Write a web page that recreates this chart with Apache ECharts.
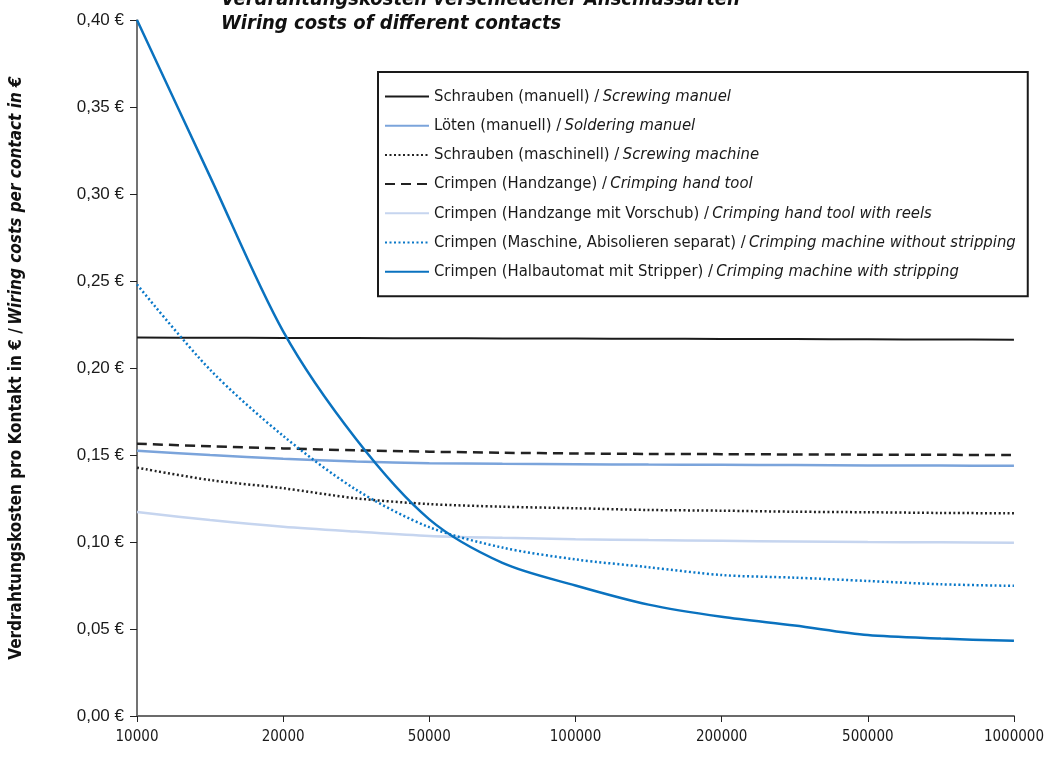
<!DOCTYPE html>
<html>
<head>
<meta charset="utf-8">
<script src="https://cdn.jsdelivr.net/npm/echarts@6/dist/echarts.min.js"></script>
<style>
  html, body { margin: 0; padding: 0; background: #fff; }
  #chart { width: 1047px; height: 759px; }
</style>
</head>
<body>
<div id="chart"></div>
<script>
// number of contacts (only every second one is labelled on the axis)
const contacts = ['10000', '15000', '20000', '30000', '50000', '75000', '100000',
  '150000', '200000', '300000', '500000', '750000', '1000000']

const namesDe = [
  'Schrauben (manuell)',
  'Löten (manuell)',
  'Schrauben (maschinell)',
  'Crimpen (Handzange)',
  'Crimpen (Handzange mit Vorschub)',
  'Crimpen (Maschine, Abisolieren separat)',
  'Crimpen (Halbautomat mit Stripper)'
]
const namesEn = [
  'Screwing manuel',
  'Soldering manuel',
  'Screwing machine',
  'Crimping hand tool',
  'Crimping hand tool with reels',
  'Crimping machine without stripping',
  'Crimping machine with stripping'
]

// costs per contact in €
const screwManual = [0.2175, 0.2174, 0.2173, 0.2172, 0.2171, 0.2170, 0.2169, 0.2168, 0.2167, 0.2166, 0.2165, 0.2164, 0.2163]
const solderManual = [0.1525, 0.1500, 0.1478, 0.1463, 0.1453, 0.1449, 0.1447, 0.1445, 0.1444, 0.1442, 0.1440, 0.1439, 0.1438]
const screwMachine = [0.1427, 0.1356, 0.1309, 0.1251, 0.1218, 0.1203, 0.1194, 0.1184, 0.1180, 0.1174, 0.1171, 0.1167, 0.1165]
const crimpHand = [0.1565, 0.1550, 0.1538, 0.1527, 0.1519, 0.1513, 0.1509, 0.1506, 0.1505, 0.1503, 0.1502, 0.1501, 0.1500]
const crimpHandReels = [0.1172, 0.1126, 0.1088, 0.1060, 0.1035, 0.1024, 0.1016, 0.1011, 0.1007, 0.1003, 0.1000, 0.0998, 0.0996]
const crimpMachineNoStrip = [0.2480, 0.1990, 0.1610, 0.1300, 0.1085, 0.0968, 0.0900, 0.0855, 0.0810, 0.0795, 0.0776, 0.0757, 0.0748]
const crimpMachineStrip = [0.4000, 0.3100, 0.2210, 0.1590, 0.1130, 0.0880, 0.0750, 0.0640, 0.0570, 0.0520, 0.0465, 0.0445, 0.0432]

const seriesData = [screwManual, solderManual, screwMachine, crimpHand, crimpHandReels, crimpMachineNoStrip, crimpMachineStrip]
const lineStyles = [
  { color: '#1a1a1a', width: 2, type: 'solid' },
  { color: '#7ba4db', width: 2.5, type: 'solid' },
  { color: '#222222', width: 2.5, type: [2, 2.5] },
  { color: '#222222', width: 2.5, type: [10, 6] },
  { color: '#c6d5ef', width: 2.5, type: 'solid' },
  { color: '#0a78c8', width: 2.5, type: [2, 2.5] },
  { color: '#0a72bf', width: 2.5, type: 'solid' }
]

const narrow = "'Liberation Sans Narrow', 'DejaVu Sans Condensed', sans-serif"

const chart = echarts.init(document.getElementById('chart'))

const option = {
  animation: false,
  backgroundColor: '#ffffff',
  title: {
    text: '{de|Verdrahtungskosten verschiedener Anschlussarten}\n{en|Wiring costs of different contacts}',
    left: 216,
    top: -17,
    textStyle: {
      rich: {
        de: { fontFamily: narrow, fontSize: 20, fontWeight: 'bold', fontStyle: 'italic', color: '#111', lineHeight: 24 },
        en: { fontFamily: narrow, fontSize: 20, fontWeight: 'bold', fontStyle: 'italic', color: '#111', lineHeight: 24 }
      }
    }
  },
  legend: {
    orient: 'vertical',
    left: 378,
    top: 72,
    padding: [16, 12, 16, 6],
    itemGap: 12.2,
    itemWidth: 44,
    itemHeight: 17,
    borderColor: '#1a1a1a',
    borderWidth: 2,
    itemStyle: { opacity: 0 },
    formatter: (name) => {
      const parts = name.split(' / ')
      return '{de|' + parts[0] + ' /} {en|' + parts[1] + '}'
    },
    textStyle: {
      rich: {
        de: { fontFamily: narrow, fontSize: 16.5, color: '#1a1a1a' },
        en: { fontFamily: narrow, fontSize: 16.5, fontStyle: 'italic', color: '#1a1a1a' }
      }
    }
  },
  grid: {
    left: 135,
    right: 29,
    top: 20,
    bottom: 43,
    containLabel: false
  },
  xAxis: {
    type: 'category',
    data: contacts,
    boundaryGap: false,
    axisLine: { lineStyle: { color: '#6b6b6b', width: 2 } },
    axisTick: { interval: 1, length: 6, lineStyle: { color: '#222', width: 1 } },
    axisLabel: { interval: 1, margin: 14, fontFamily: narrow, fontSize: 15, color: '#1a1a1a' },
    splitLine: { show: false }
  },
  yAxis: {
    type: 'value',
    min: 0,
    max: 0.4,
    interval: 0.05,
    name: '{de|Verdrahtungskosten pro Kontakt in € /} {en|Wiring costs per contact in €}',
    nameLocation: 'middle',
    nameGap: 112,
    nameRotate: 90,
    nameTextStyle: {
      rich: {
        de: { fontFamily: narrow, fontSize: 17, fontWeight: 'bold', color: '#111' },
        en: { fontFamily: narrow, fontSize: 17, fontWeight: 'bold', fontStyle: 'italic', color: '#111' }
      }
    },
    axisLine: { show: true, lineStyle: { color: '#444', width: 1.5 } },
    axisTick: { show: true, length: 7, lineStyle: { color: '#222', width: 1 } },
    axisLabel: {
      margin: 13,
      fontFamily: 'Liberation Sans',
      fontSize: 17,
      color: '#1a1a1a',
      formatter: (v) => v.toFixed(2).replace('.', ',') + ' €'
    },
    splitLine: { show: false }
  },
  series: seriesData.map((data, i) => ({
    name: namesDe[i] + ' / ' + namesEn[i],
    type: 'line',
    data: data,
    smooth: 0.3,
    symbol: 'none',
    lineStyle: lineStyles[i],
    itemStyle: { color: lineStyles[i].color },
    z: 2 + i
  }))
}

chart.setOption(option)
</script>
</body>
</html>
